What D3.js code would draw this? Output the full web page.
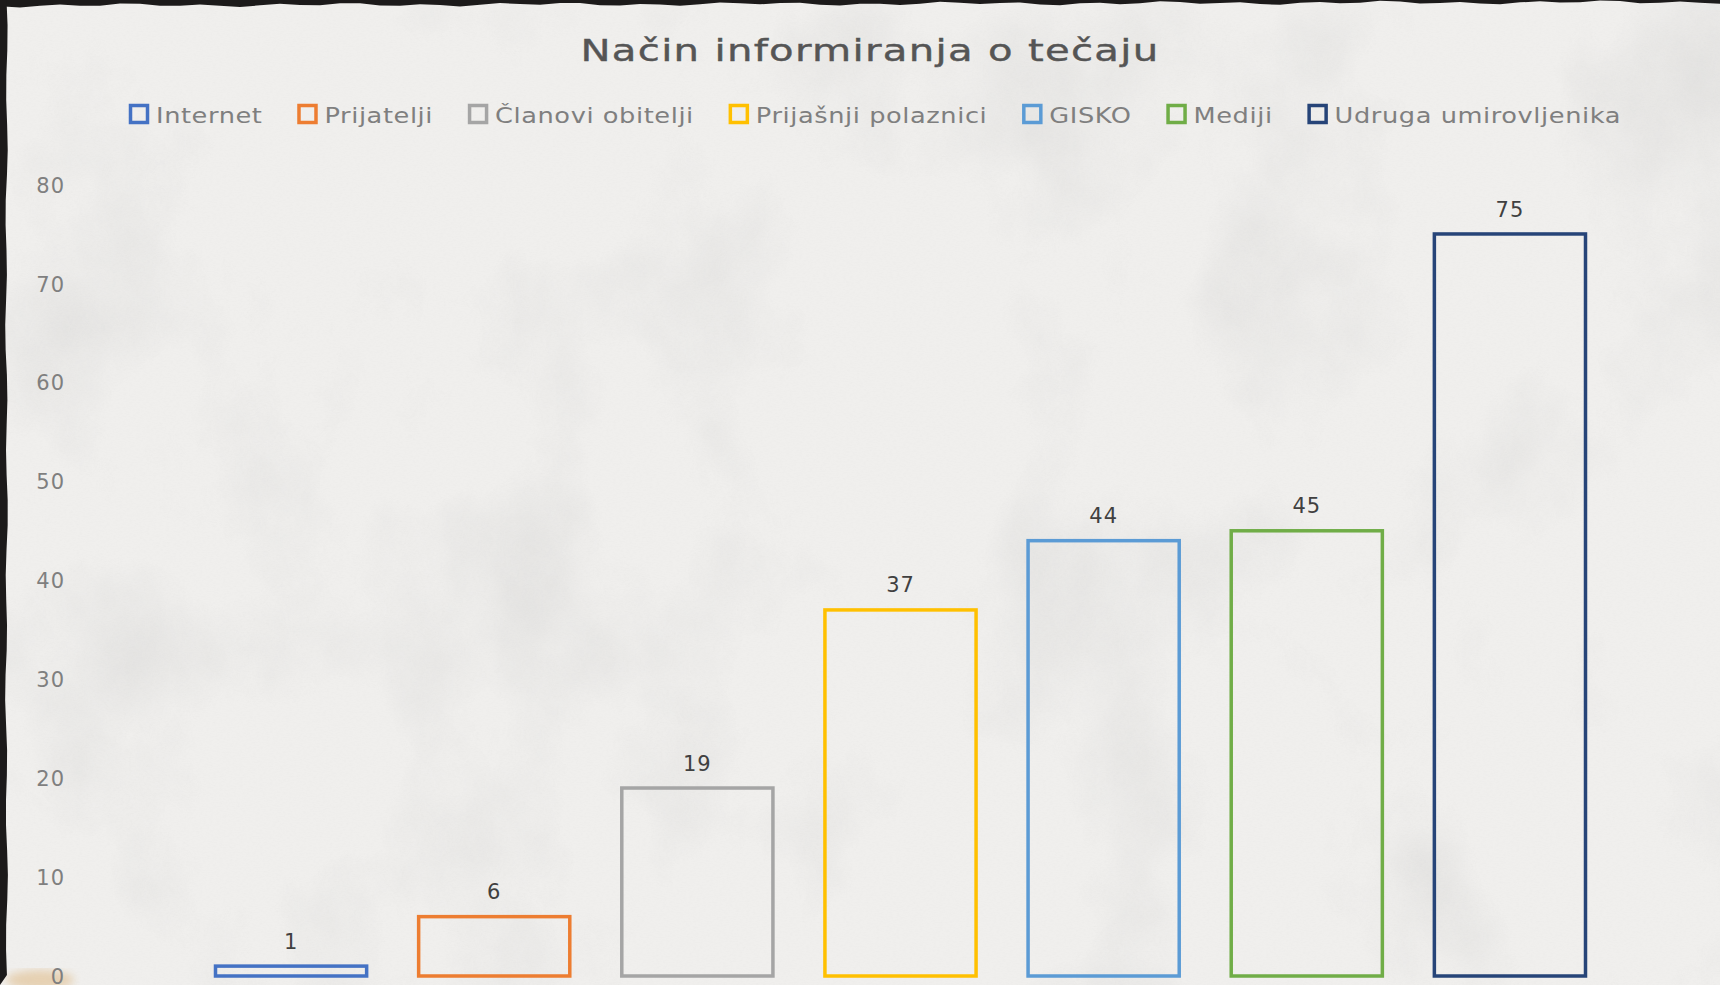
<!DOCTYPE html>
<html>
<head>
<meta charset="utf-8">
<script src="https://cdn.jsdelivr.net/npm/d3@7"></script>
<style>
  html, body { margin: 0; padding: 0; background: #efeeec; overflow: hidden; }
  svg { display: block; }
</style>
</head>
<body>
<div class="graphic"></div>
<script>
var width = 1720;
var height = 985;

// data
var title = "Način informiranja o tečaju";
var categories = ["Internet", "Prijatelji", "Članovi obitelji", "Prijašnji polaznici", "GISKO", "Mediji", "Udruga umirovljenika"];
var values = [1, 6, 19, 37, 44, 45, 75];
var colors = ["#4472c4", "#ed7d31", "#a5a5a5", "#ffc000", "#5b9bd5", "#70ad47", "#264478"];
var yTicks = [0, 10, 20, 30, 40, 50, 60, 70, 80];

var font = "'DejaVu Sans', 'Noto Sans', sans-serif";

var svg = d3.select("div.graphic").append("svg")
	.attr("width", width)
	.attr("height", height);

// paper texture
var defs = svg.append("defs");
var paper = defs.append("filter").attr("id", "paper")
	.attr("x", 0).attr("y", 0).attr("width", "100%").attr("height", "100%");
paper.append("feTurbulence")
	.attr("type", "fractalNoise")
	.attr("baseFrequency", "0.005 0.004")
	.attr("numOctaves", 6)
	.attr("seed", 23)
	.attr("result", "n");
paper.append("feColorMatrix")
	.attr("in", "n")
	.attr("type", "matrix")
	.attr("values", "0 0 0 0 0.5  0 0 0 0 0.5  0 0 0 0 0.5  1.6 0 0 0 -0.82");

var grain = defs.append("filter").attr("id", "grain")
	.attr("x", 0).attr("y", 0).attr("width", "100%").attr("height", "100%");
grain.append("feTurbulence")
	.attr("type", "fractalNoise")
	.attr("baseFrequency", "0.3 0.8")
	.attr("numOctaves", 2)
	.attr("seed", 3)
	.attr("result", "g");
grain.append("feColorMatrix")
	.attr("in", "g")
	.attr("type", "matrix")
	.attr("values", "0 0 0 0 0.5  0 0 0 0 0.5  0 0 0 0 0.5  0.5 0 0 0 -0.2");

var blur = defs.append("filter").attr("id", "blur");
blur.append("feGaussianBlur").attr("stdDeviation", 4);

svg.append("rect").attr("width", width).attr("height", height).attr("fill", "#f0efed");
svg.append("rect").attr("width", width).attr("height", height).attr("filter", "url(#paper)").attr("opacity", 0.4);
svg.append("rect").attr("width", width).attr("height", height).attr("filter", "url(#grain)").attr("opacity", 0.2);

// small stain near the bottom-left corner
svg.append("ellipse")
	.attr("cx", 40).attr("cy", 980).attr("rx", 34).attr("ry", 10)
	.attr("fill", "#e2c49a").attr("opacity", 0.7).attr("filter", "url(#blur)");

// rough black edges (top and left)
var topEdge = d3.range(0, 1721, 20).map(function(x, i){
	var t = x / 1720;
	var base = 5.5 - 3.5 * t;
	var wob = 1.2 * Math.sin(i * 1.7) + 0.8 * Math.sin(i * 0.6 + 1);
	return [x, Math.max(0, base + wob)];
});
svg.append("path")
	.attr("d", d3.line()([[0, 0]].concat(topEdge).concat([[1720, 0]])) + "Z")
	.attr("fill", "#1c1a1a");

var leftEdge = d3.range(0, 986, 25).map(function(y, i){
	return [6.5 + 0.9 * Math.sin(i * 1.3) + 0.5 * Math.sin(i * 0.4), y];
});
svg.append("path")
	.attr("d", d3.line()([[0, 0]].concat(leftEdge).concat([[0, 985]])) + "Z")
	.attr("fill", "#1c1a1a");

// scales
var x = d3.scaleBand()
	.domain(categories)
	.range([189.5, 1611.5])
	.paddingInner(0.256)
	.paddingOuter(0.128);

var y = d3.scaleLinear()
	.domain([0, 80])
	.range([976, 184.5]);

// y axis labels only
var yAxis = d3.axisLeft(y).tickValues(yTicks).tickSize(0).tickPadding(0);
var gy = svg.append("g")
	.attr("transform", "translate(65,0)")
	.call(yAxis);
gy.select(".domain").remove();
gy.selectAll("text")
	.attr("font-family", font)
	.attr("font-size", 21)
	.attr("fill", "#7f7f7f")
	.attr("letter-spacing", 1)
	.attr("dy", "0.36em");

// bars
var bars = svg.append("g");
bars.selectAll("rect")
	.data(values)
	.enter()
	.append("rect")
	.attr("x", function(d, i){ return x(categories[i]); })
	.attr("y", function(d){ return y(d); })
	.attr("width", x.bandwidth())
	.attr("height", function(d){ return y(0) - y(d); })
	.attr("fill", "none")
	.attr("stroke", function(d, i){ return colors[i]; })
	.attr("stroke-width", 3.5);

// data labels
svg.append("g").selectAll("text")
	.data(values)
	.enter()
	.append("text")
	.attr("x", function(d, i){ return x(categories[i]) + x.bandwidth() / 2; })
	.attr("y", function(d){ return y(d) - 25; })
	.attr("dy", "0.36em")
	.attr("text-anchor", "middle")
	.attr("font-family", font)
	.attr("font-size", 21)
	.attr("letter-spacing", 1)
	.attr("fill", "#404040")
	.text(function(d){ return d; });

// title
var titleText = svg.append("text")
	.attr("x", 870)
	.attr("y", 61)
	.attr("text-anchor", "middle")
	.attr("font-family", font)
	.attr("font-size", 31)
	.attr("fill", "#555555")
	.attr("stroke", "#555555")
	.attr("stroke-width", 0.4)
	.attr("letter-spacing", 1)
	.text(title);
titleText.attr("textLength", 579).attr("lengthAdjust", "spacingAndGlyphs");

// legend
var legend = svg.append("g");
var items = legend.selectAll("g")
	.data(categories)
	.enter()
	.append("g");
items.append("rect")
	.attr("width", 17)
	.attr("height", 17)
	.attr("y", 105.5)
	.attr("fill", "none")
	.attr("stroke", function(d, i){ return colors[i]; })
	.attr("stroke-width", 3.5);
var labels = items.append("text")
	.attr("y", 123)
	.attr("font-family", font)
	.attr("font-size", 22)
	.attr("fill", "#7f7f7f")
	.attr("letter-spacing", 0.5)
	.text(function(d){ return d; });

var natural = 0;
labels.each(function(){ natural += this.getComputedTextLength(); });
var markerW = 20, markerGap = 7, itemGap = 35;
var fixed = categories.length * (markerW + markerGap) + (categories.length - 1) * itemGap;
var stretch = (1492 - fixed) / natural;

var cursor = 129;
items.each(function(d){
	var g = d3.select(this);
	var t = g.select("text");
	var w = t.node().getComputedTextLength() * stretch;
	t.attr("textLength", w).attr("lengthAdjust", "spacingAndGlyphs");
	g.select("rect").attr("x", cursor + 1.5);
	t.attr("x", cursor + markerW + markerGap);
	cursor += markerW + markerGap + w + itemGap;
});
</script>
</body>
</html>
